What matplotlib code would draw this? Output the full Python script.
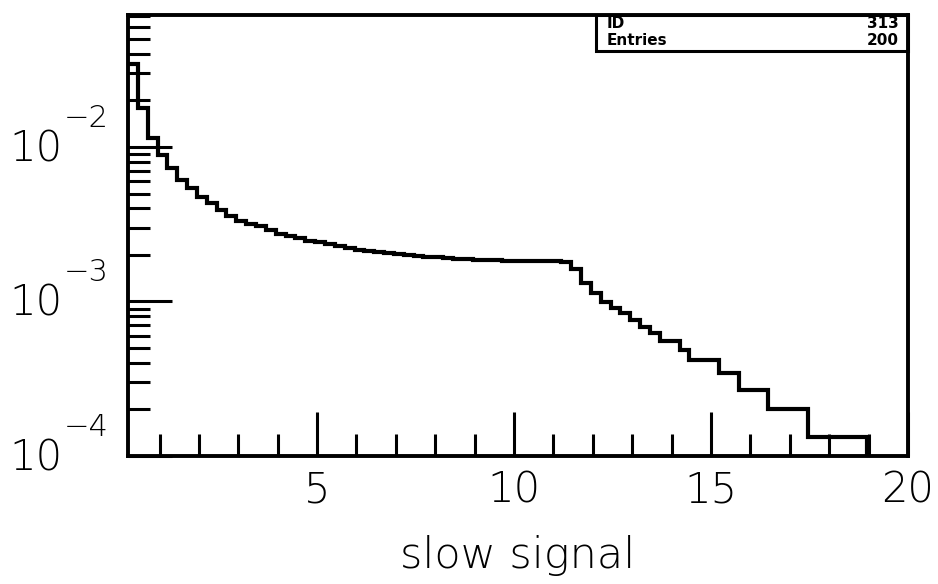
import numpy as np
import matplotlib
matplotlib.use('Agg')
import matplotlib.pyplot as plt
import matplotlib.transforms as mtrans
from matplotlib.patches import Rectangle
from matplotlib.ticker import FixedLocator, NullFormatter

# histogram booking: lower edge, bin width, number of bins
x_low = 0.2
bin_width = 0.25
n_bins = 80

# bin contents (log scale)
content = [0.0344, 0.0180, 0.01143, 0.00887, 0.00731, 0.00611, 0.00543, 0.00476,
           0.00432, 0.00391, 0.00357, 0.00333, 0.00318, 0.00308, 0.00290, 0.00275,
           0.00265, 0.00258, 0.00248, 0.00242, 0.00234, 0.00229, 0.00223, 0.00217,
           0.00212, 0.00209, 0.00206, 0.00204, 0.00200, 0.00198, 0.00195, 0.00193,
           0.00191, 0.00188, 0.001875, 0.001867, 0.001857, 0.001849, 0.00184, 0.001832,
           0.001829, 0.001829, 0.001824, 0.001821, 0.001802, 0.001623, 0.001312, 0.00114,
           0.000997, 0.000904, 0.000839, 0.000759, 0.000687, 0.000622, 0.000558, 0.000558,
           0.000485, 0.000418, 0.000418, 0.000418, 0.000343, 0.000343, 0.000267, 0.000267,
           0.000267, 0.000201, 0.000201, 0.000201, 0.000201, 0.000133, 0.000133, 0.000133,
           0.000133, 0.000133, 0.000133, 0, 0, 0, 0, 0]

hist_id = 313
entries = 200
x_title = 'slow signal'
x_major = [5, 10, 15, 20]
x_minor = [1, 2, 3, 4, 6, 7, 8, 9, 11, 12, 13, 14, 16, 17, 18, 19]
y_decades = [-4, -3, -2]

plt.rcParams['font.family'] = ['DejaVu Sans']
plt.rcParams['font.weight'] = 'light'

fig = plt.figure(figsize=(9.38, 5.84), dpi=100)
ax = fig.add_axes([128/938, 1 - 456/584, 780/938, 441/584])

edges = x_low + bin_width * np.arange(n_bins + 1)
ax.stairs(content, edges, baseline=None, color='black', linewidth=3.0)

ax.set_yscale('log')
ax.set_xlim(0.2, 20)
ax.set_ylim(1e-4, 0.0715)

for s in ax.spines.values():
    s.set_linewidth(2.8)

# ticks drawn inside, like HIGZ
ax.xaxis.set_major_locator(FixedLocator(x_major))
ax.xaxis.set_minor_locator(FixedLocator(x_minor))
ax.yaxis.set_major_locator(FixedLocator([10.0 ** d for d in y_decades]))
y_minor = [m * 10.0 ** d for d in y_decades for m in range(2, 10)]
ax.yaxis.set_minor_locator(FixedLocator(y_minor))
ax.yaxis.set_major_formatter(NullFormatter())
ax.yaxis.set_minor_formatter(NullFormatter())
ax.xaxis.set_minor_formatter(NullFormatter())
ax.tick_params(which='major', direction='in', length=32, width=2.2)
ax.tick_params(which='minor', direction='in', length=16, width=2.2)
ax.tick_params(axis='x', which='major', labelsize=30, pad=10)

ax.set_xlabel(x_title, fontsize=31, fontweight='light', labelpad=17)

# y labels as 10 with exponent
px = fig.dpi_scale_trans
blend = mtrans.blended_transform_factory(ax.transAxes, ax.transData)
for d in y_decades:
    t1 = blend + mtrans.ScaledTranslation(-65/100, -2/100, px)
    ax.text(0, 10.0 ** d, '10', transform=t1, ha='right', va='center',
            fontsize=30, clip_on=False)
    t2 = blend + mtrans.ScaledTranslation(-64/100, 20/100, px)
    ax.text(0, 10.0 ** d, '\u2212%d' % abs(d), transform=t2, ha='left',
            va='baseline', fontsize=22, clip_on=False)

# statistics box
box_x0 = 0.60
box_y0 = 0.918
ax.add_patch(Rectangle((box_x0, box_y0), 1 - box_x0, 1 - box_y0, transform=ax.transAxes,
                       fill=False, edgecolor='black', linewidth=2.2, clip_on=False))
rows = [('ID', str(hist_id), 0.980), ('Entries', str(entries), 0.943)]
for name, val, yy in rows:
    ax.text(box_x0 + 0.013, yy, name, transform=ax.transAxes, ha='left', va='center',
            fontsize=11, fontweight='bold')
    ax.text(0.988, yy, val, transform=ax.transAxes, ha='right', va='center',
            fontsize=11, fontweight='bold')

fig.savefig('out.png', dpi=100)
